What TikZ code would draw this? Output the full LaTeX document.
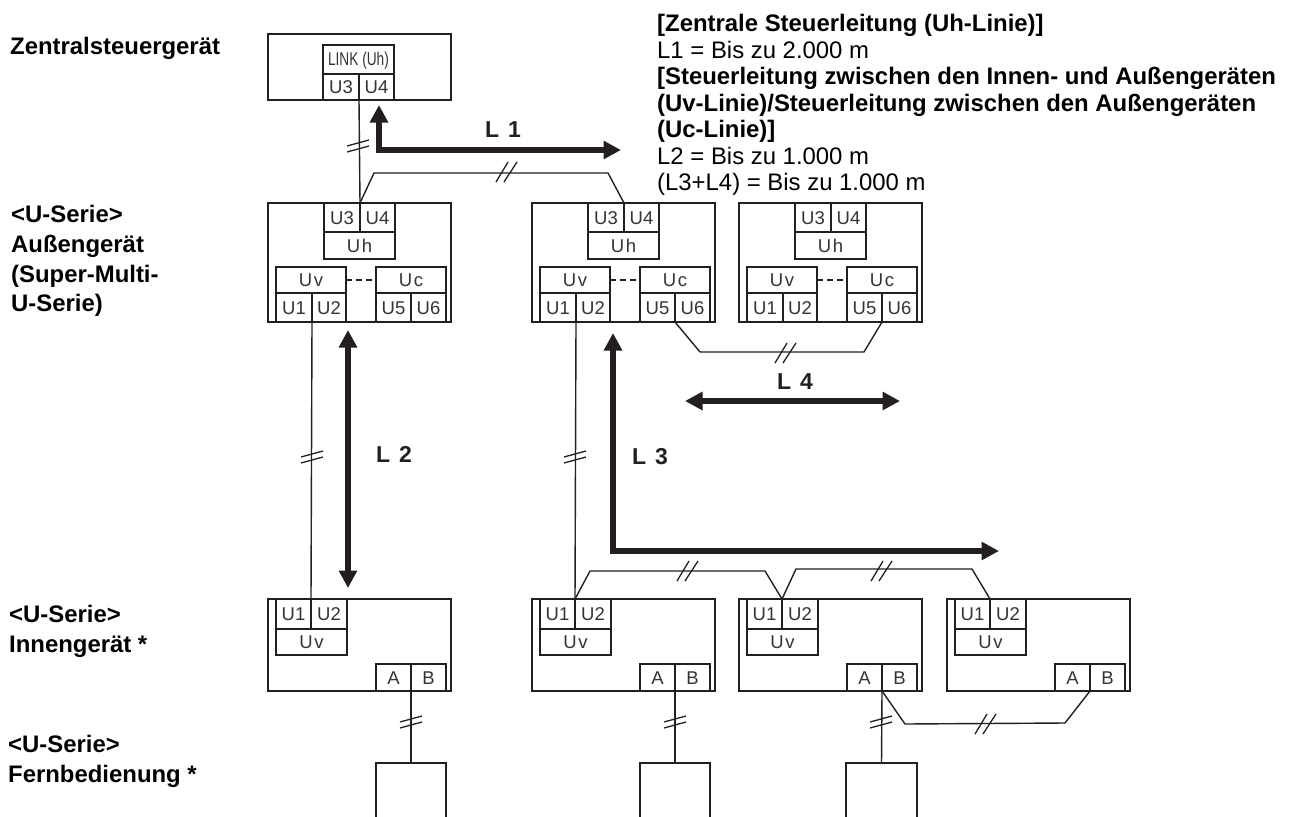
\documentclass[tikz,border=0pt]{standalone}
\usepackage{fontspec}
\setmainfont{Liberation Sans}
\usetikzlibrary{arrows.meta}
\definecolor{ink}{HTML}{231F20}
\definecolor{cellink}{HTML}{333333}
\tikzset{
  cellbox/.style={draw=ink,line width=1.5pt,inner sep=0pt,outer sep=0pt,text=cellink,text height=13pt,text depth=0pt,font=\fontsize{18.5}{20}\selectfont},
  wire/.style={draw=ink,line width=1.4pt},
  tickline/.style={draw=ink,line width=1.3pt},
  dashwire/.style={draw=ink,line width=1.4pt,dash pattern=on 6pt off 4pt},
  bigarrow/.style={draw=ink,line width=5.4pt,{Triangle[length=17.5pt,width=17.5pt]}-{Triangle[length=17.5pt,width=17.5pt]}},
  lenlabel/.style={text=ink,inner sep=0pt,font=\fontsize{23}{26}\selectfont\bfseries},
  leftlabel/.style={anchor=north west,align=left,inner sep=0pt,text=black,font=\fontsize{23.9}{29.8}\selectfont\bfseries},
  notes/.style={anchor=north west,align=left,inner sep=0pt,text=black,font=\fontsize{23.9}{26.5}\selectfont}
}
% name, x1, y1, x2, y2, text
\newcommand{\bcell}[6]{%
  \pgfmathsetmacro\bcw{#4-(#2)}\pgfmathsetmacro\bch{#5-(#3)}%
  \pgfmathsetmacro\bcx{((#2)+(#4))/2}\pgfmathsetmacro\bcy{((#3)+(#5))/2}%
  \node[cellbox,minimum width=\bcw pt,minimum height=\bch pt] (#1) at (\bcx,\bcy) {#6};}
% name, left x
\newcommand{\outdoorunit}[2]{%
  \bcell{#1}{#2}{203}{#2+183}{322}{}
  \bcell{#1u3}{#2+56}{203}{#2+92}{232}{U3}
  \bcell{#1u4}{#2+92}{203}{#2+127}{232}{U4}
  \bcell{#1uh}{#2+56}{232}{#2+127}{259}{U\kern1.5pt h}
  \bcell{#1uv}{#2+8}{267}{#2+78}{293}{U\kern1.5pt v}
  \bcell{#1u1}{#2+8}{293}{#2+44}{322}{U1}
  \bcell{#1u2}{#2+44}{293}{#2+78}{322}{U2}
  \bcell{#1uc}{#2+108}{267}{#2+178}{293}{U\kern1.5pt c}
  \bcell{#1u5}{#2+108}{293}{#2+143}{322}{U5}
  \bcell{#1u6}{#2+143}{293}{#2+178}{322}{U6}
  \draw[dashwire] (#1uv.east) -- (#1uc.west);}
\newcommand{\indoorunit}[2]{%
  \bcell{#1}{#2}{599}{#2+183}{691}{}
  \bcell{#1u1}{#2+8}{599}{#2+43}{629}{U1}
  \bcell{#1u2}{#2+43}{599}{#2+79}{629}{U2}
  \bcell{#1uv}{#2+8}{629}{#2+79}{655}{U\kern1.5pt v}
  \bcell{#1a}{#2+108}{664}{#2+143}{691}{A}
  \bcell{#1b}{#2+143}{664}{#2+178}{691}{B}}
\newcommand{\steepticks}[2]{%
  \draw[tickline] (#1-11,#2+10) -- (#1+1,#2-10);
  \draw[tickline] (#1-3,#2+10) -- (#1+10,#2-10);}
\newcommand{\flatticks}[2]{%
  \draw[tickline] (#1-11,#2) -- (#1+11,#2-6);
  \draw[tickline] (#1-11,#2+6) -- (#1+11,#2);}
\begin{document}
\begin{tikzpicture}[x=1pt,y=-1pt]
\useasboundingbox (0,0) rectangle (1289,816);
\clip (0,0) rectangle (1289,816);
% central controller
\bcell{ctl}{268}{34}{451}{100}{}
\bcell{link}{323}{45}{394}{74}{\scalebox{0.74}[1]{LINK (Uh)}}
\bcell{ctlu3}{323}{74}{359}{100}{U3}
\bcell{ctlu4}{359}{74}{394}{100}{U4}
% outdoor units
\outdoorunit{oa}{268}
\outdoorunit{ob}{532}
\outdoorunit{oc}{739}
% indoor units
\indoorunit{ia}{268}
\indoorunit{ib}{532}
\indoorunit{ic}{739}
\indoorunit{id}{947}
% remote controllers (cut by the page bottom)
\bcell{ra}{376}{763}{446}{840}{}
\bcell{rb}{640}{763}{710}{840}{}
\bcell{rc}{846}{763}{917}{840}{}
% bends
\coordinate (b1) at (374,173);
\coordinate (b2) at (608,173);
\coordinate (b3) at (700,352);
\coordinate (b4) at (864,352);
\coordinate (b5) at (590,571);
\coordinate (b6) at (765,571);
\coordinate (b7) at (796,569);
\coordinate (b8) at (972,569);
\coordinate (b9) at (905,724);
\coordinate (b10) at (1065,723);
% wires
\draw[wire] (ctlu3.south east) -- (oau3.north east);
\draw[wire,line join=round] (oau3.north east) -- (b1) -- (b2) -- (obu3.north east);
\draw[wire] (oau1.south east) -- (iau1.north east);
\draw[wire] (obu1.south east) -- (ibu1.north east);
\draw[wire,line join=round] (obu5.south east) -- (b3) -- (b4) -- (ocu5.south east);
\draw[wire,line join=round] (ibu1.north east) -- (b5) -- (b6) -- (icu1.north east);
\draw[wire,line join=round] (icu1.north east) -- (b7) -- (b8) -- (idu1.north east);
\draw[wire] (iaa.south east) -- (ra.north);
\draw[wire] (iba.south east) -- (rb.north);
\draw[wire] (ica.south east) -- (rc.north);
\draw[wire,line join=round] (ica.south east) -- (b9) -- (b10) -- (ida.south east);
% ticks
\flatticks{358}{146}
\flatticks{312}{457}
\flatticks{575}{457}
\flatticks{411}{722}
\flatticks{675}{722}
\flatticks{881}{722}
\steepticks{507}{172}
\steepticks{786}{353}
\steepticks{688}{571}
\steepticks{882}{571}
\steepticks{986}{724}
% dimension arrows
\coordinate (l1a) at (379,105);
\coordinate (l1c) at (379,150);
\coordinate (l1b) at (621,150);
\coordinate (l2a) at (348,330);
\coordinate (l2b) at (348,588);
\coordinate (l3a) at (613,333);
\coordinate (l3c) at (613,551);
\coordinate (l3b) at (999,551);
\coordinate (l4a) at (685,401);
\coordinate (l4b) at (900,401);
\draw[bigarrow,line join=miter] (l1a) -- (l1c) -- (l1b);
\draw[bigarrow] (l2a) -- (l2b);
\draw[bigarrow,line join=miter] (l3a) -- (l3c) -- (l3b);
\draw[bigarrow] (l4a) -- (l4b);
\node[lenlabel] (tl1) at (503,130) {L\hspace{9pt}1};
\node[lenlabel] (tl2) at (394,454) {L\hspace{9pt}2};
\node[lenlabel] (tl3) at (650,457) {L\hspace{9pt}3};
\node[lenlabel] (tl4) at (795,382) {L\hspace{9pt}4};
% left column
\node[leftlabel] (n1) at (10,37) {Zentralsteuergerät};
\node[leftlabel] (n2) at (11,205) {<U-Serie>\\Außengerät\\(Super-Multi-\\U-Serie)};
\node[leftlabel] (n3) at (9,605) {<U-Serie>\\Innengerät *};
\node[leftlabel] (n4) at (8,735) {<U-Serie>\\Fernbedienung *};
% notes
\node[notes] (n5) at (657,14) {\textbf{[Zentrale Steuerleitung (Uh-Linie)]}\\
L1 = Bis zu 2.000 m\\
\textbf{[Steuerleitung zwischen den Innen- und Außengeräten}\\
\textbf{(Uv-Linie)/Steuerleitung zwischen den Außengeräten}\\
\textbf{(Uc-Linie)]}\\
L2 = Bis zu 1.000 m\\
(L3+L4) = Bis zu 1.000 m};
\end{tikzpicture}
\end{document}
